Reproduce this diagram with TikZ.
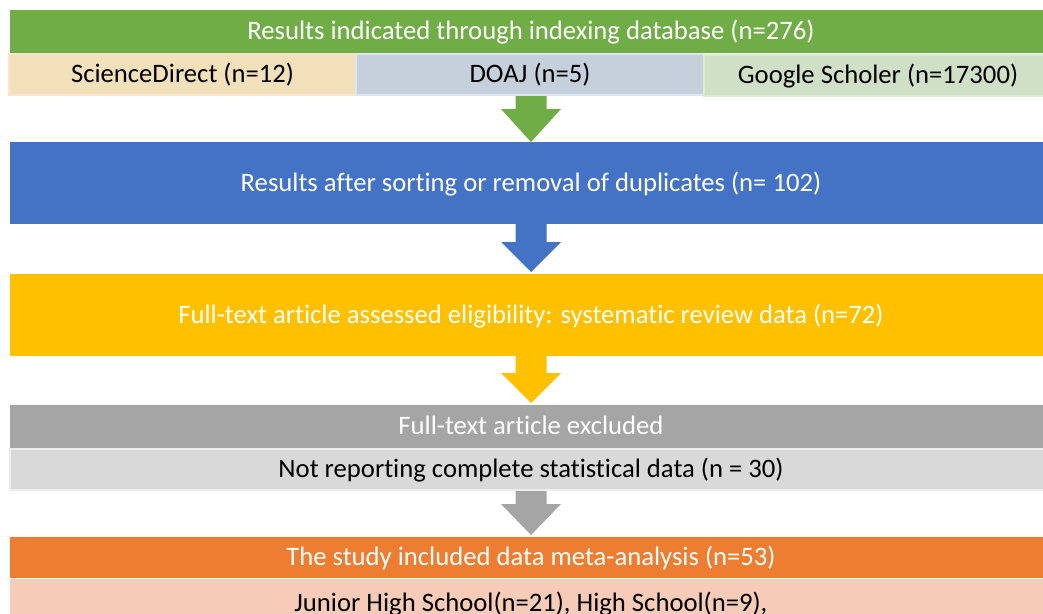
\documentclass[tikz,border=0pt]{standalone}
\usepackage{fontspec}
\setmainfont{Carlito}[RawFeature={-liga;-clig;-calt;-dlig}]
\definecolor{cgreen}{HTML}{70AD47}
\definecolor{cblue}{HTML}{4472C4}
\definecolor{cyellow}{HTML}{FFC000}
\definecolor{cgray}{HTML}{A5A5A5}
\definecolor{corange}{HTML}{ED7D31}
\definecolor{sdfill}{HTML}{F1E0BA}
\definecolor{sdline}{HTML}{FBE3CC}
\definecolor{dofill}{HTML}{C5D0DC}
\definecolor{doline}{HTML}{DCE5F1}
\definecolor{gsfill}{HTML}{CFE0C6}
\definecolor{gsline}{HTML}{DDEAD6}
\definecolor{lgray}{HTML}{D9D9D9}
\definecolor{lgline}{HTML}{EDEDED}
\definecolor{pink}{HTML}{F6CBB7}
\newcommand\blockarrow[4]{\fill[#1] (515.5,#2) -- (546.5,#2) -- (546.5,#3) -- (561,#3) -- (531,#4) -- (501,#3) -- (515.5,#3) -- cycle;}
\begin{document}
\begin{tikzpicture}[x=0.75pt,y=-0.75pt,
  box/.style={inner sep=0pt, outer sep=0pt, anchor=center, text height=15.5pt, text depth=3pt, font=\fontsize{20}{24}\selectfont},
  wide/.style={minimum width=781.5pt},
  hdr/.style={box, wide, text=white},
  sub/.style={box, text=black, line width=0.9pt}]
\useasboundingbox (0,0) rectangle (1043,614);
\fill[white] (0,0) rectangle (1043,614);
\begin{scope}
\clip (0,0) rectangle (1043,614);
% arrows
\blockarrow{cgreen}{95}{109}{142}
\blockarrow{cblue}{224}{242}{272}
\blockarrow{cyellow}{356}{373}{403}
\blockarrow{cgray}{490}{504}{535}
% boxes
\node[hdr, minimum height=32.25pt, fill=cgreen] (top) at (531,31.5) {Results indicated through indexing database (n=276)};
\node[sub, minimum width=260.25pt, minimum height=30.75pt, fill=sdfill, draw=sdline] (sd) at (182.5,74.5) {ScienceDirect (n=12)};
\node[sub, minimum width=261pt, minimum height=30.75pt, fill=dofill, draw=doline] (doaj) at (530,74.5) {DOAJ (n=5)};
\node[sub, minimum width=261pt, minimum height=30.75pt, fill=gsfill, draw=gsline] (gs) at (878,75.5) {Google Scholer (n=17300)};
\node[hdr, minimum height=61.5pt, fill=cblue] (dup) at (531,183) {Results after sorting or removal of duplicates (n= 102)};
\node[hdr, minimum height=61.5pt, fill=cyellow] (full) at (531,315) {Full-text article assessed eligibility: systematic review data (n=72)};
\node[hdr, minimum height=32.25pt, fill=cgray] (excl) at (531,426.5) {Full-text article excluded};
\node[sub, wide, minimum height=30.75pt, fill=lgray, draw=lgline] (notrep) at (531,469.5) {Not reporting complete statistical data (n = 30)};
\node[hdr, minimum height=30.75pt, fill=corange] (incl) at (531,557.5) {The study included data meta-analysis (n=53)};
\node[sub, wide, minimum height=36pt, fill=pink] (school) at (531,603) {Junior High School(n=21), High School(n=9),};
\end{scope}
\end{tikzpicture}
\end{document}
